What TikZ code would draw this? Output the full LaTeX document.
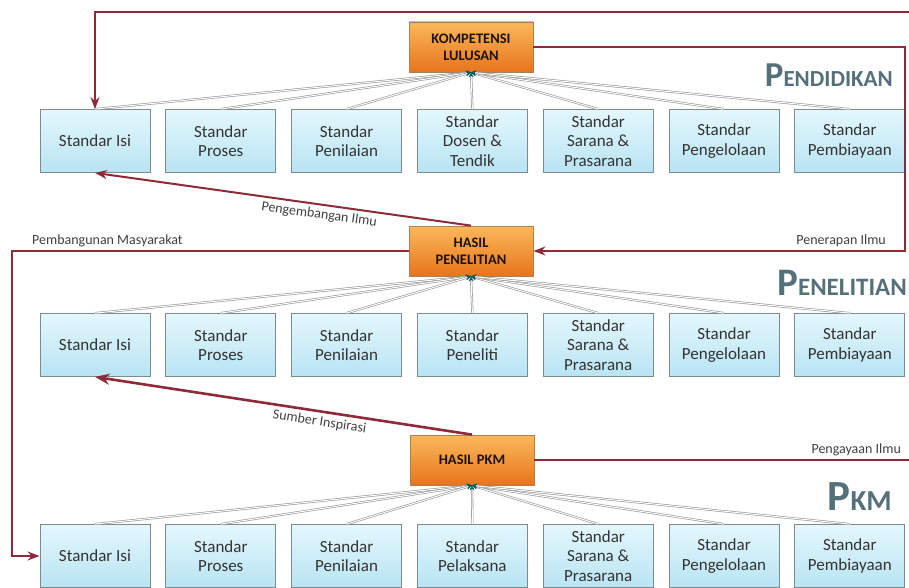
\documentclass[tikz,border=0pt]{standalone}
\usepackage{fontspec}
\setmainfont{Carlito}
\usetikzlibrary{positioning, arrows.meta}
\definecolor{flowred}{HTML}{8E2B3A}
\definecolor{boxline}{HTML}{7C8B90}
\definecolor{boxtop}{HTML}{E4F7FD}
\definecolor{boxbot}{HTML}{B8E4F3}
\definecolor{hasiltop}{HTML}{FBB85A}
\definecolor{hasilbot}{HTML}{E8741C}
\definecolor{titlegray}{HTML}{56707A}
\tikzset{
    >=Stealth,
    node distance=15pt,
    std/.style={draw=boxline, line width=0.8pt, top color=boxtop, bottom color=boxbot,
        minimum width=110pt, minimum height=63pt, align=center, inner sep=1pt,
        font=\fontsize{17}{19.5}\selectfont, text=black!80},
    hasil/.style={draw=brown!70!gray, line width=0.8pt, top color=hasiltop, bottom color=hasilbot,
        minimum width=124pt, minimum height=50pt, align=center,
        font=\bfseries\fontsize{14.5}{17}\selectfont, text=black!85!brown},
    link/.style={draw=gray!85, double=white, double distance=1pt, line width=0.6pt,
        -{Stealth[teal!70!black, length=5pt, width=5pt]}},
    flow/.style={draw=flowred, line width=2pt, ->},
    tag/.style={font=\fontsize{14}{16}\selectfont, text=black!75},
    title/.style={font=\bfseries, text=titlegray, anchor=base east, inner sep=0pt},
}

\begin{document}
\begin{tikzpicture}[x=1pt, y=-1pt]
\useasboundingbox (0,0) rectangle (909,588);

% pendidikan
\node[hasil] (kl) at (471,47) {KOMPETENSI\\LULUSAN};
\node[std] (i1) at (95,141) {Standar Isi};
\node[std] (i2) [right=of i1] {Standar\\Proses};
\node[std] (i3) [right=of i2] {Standar\\Penilaian};
\node[std] (i4) [right=of i3] {Standar\\Dosen \&\\Tendik};
\node[std] (i5) [right=of i4] {Standar\\Sarana \&\\Prasarana};
\node[std] (i6) [right=of i5] {Standar\\Pengelolaan};
\node[std] (i7) [right=of i6] {Standar\\Pembiayaan};
\node[title] (tpend) at (893,87) {{\fontsize{35}{35}\selectfont P}{\fontsize{23}{23}\selectfont ENDIDIKAN}};

% penelitian
\node[hasil] (hp) at (471,251) {HASIL\\PENELITIAN};
\node[std] (p1) at (95,345) {Standar Isi};
\node[std] (p2) [right=of p1] {Standar\\Proses};
\node[std] (p3) [right=of p2] {Standar\\Penilaian};
\node[std] (p4) [right=of p3] {Standar\\Peneliti};
\node[std] (p5) [right=of p4] {Standar\\Sarana \&\\Prasarana};
\node[std] (p6) [right=of p5] {Standar\\Pengelolaan};
\node[std] (p7) [right=of p6] {Standar\\Pembiayaan};
\node[title] (tpen) at (907,295) {{\fontsize{39}{39}\selectfont P}{\fontsize{25}{25}\selectfont ENELITIAN}};

% pkm
\node[hasil] (pkm) at (472,460) {HASIL PKM};
\node[std] (m1) at (95,556) {Standar Isi};
\node[std] (m2) [right=of m1] {Standar\\Proses};
\node[std] (m3) [right=of m2] {Standar\\Penilaian};
\node[std] (m4) [right=of m3] {Standar\\Pelaksana};
\node[std] (m5) [right=of m4] {Standar\\Sarana \&\\Prasarana};
\node[std] (m6) [right=of m5] {Standar\\Pengelolaan};
\node[std] (m7) [right=of m6] {Standar\\Pembiayaan};
\node[title] (tpkm) at (892,510) {{\fontsize{43}{43}\selectfont P}{\fontsize{29}{29}\selectfont KM}};

% standar -> hasil
\draw[link] (i1.north) -- (kl.south);
\draw[link] (i2.north) -- (kl.south);
\draw[link] (i3.north) -- (kl.south);
\draw[link] (i4.north) -- (kl.south);
\draw[link] (i5.north) -- (kl.south);
\draw[link] (i6.north) -- (kl.south);
\draw[link] (i7.north) -- (kl.south);

\draw[link] (p1.north) -- (hp.south);
\draw[link] (p2.north) -- (hp.south);
\draw[link] (p3.north) -- (hp.south);
\draw[link] (p4.north) -- (hp.south);
\draw[link] (p5.north) -- (hp.south);
\draw[link] (p6.north) -- (hp.south);
\draw[link] (p7.north) -- (hp.south);

\draw[link] (m1.north) -- (pkm.south);
\draw[link] (m2.north) -- (pkm.south);
\draw[link] (m3.north) -- (pkm.south);
\draw[link] (m4.north) -- (pkm.south);
\draw[link] (m5.north) -- (pkm.south);
\draw[link] (m6.north) -- (pkm.south);
\draw[link] (m7.north) -- (pkm.south);

% alur antar bidang
\coordinate (topR) at (909,12);
\coordinate (rA) at (905,47);
\coordinate (lA) at (12,251);
\coordinate (rB) at (909,460);

\draw[flow] (topR) -| (i1.north);
\draw[flow] (kl.east) -- (rA) |- node[tag, pos=0.52, anchor=south east] {Penerapan Ilmu} (hp.east);
\draw[flow, <-] (i1.south) -- node[tag, sloped, below, pos=0.6] {Pengembangan Ilmu} (hp.north);
\draw[flow] (hp.west) -- node[tag, pos=0.96, anchor=south west] {Pembangunan Masyarakat} (lA) |- (m1.west);
\draw[flow, <-, line width=2.6pt] (p1.south) -- node[tag, sloped, below, pos=0.6] {Sumber Inspirasi} (pkm.north);
\draw[flow, -] (pkm.east) -- node[tag, pos=0.99, anchor=south east] {Pengayaan Ilmu} (rB);

\end{tikzpicture}
\end{document}
